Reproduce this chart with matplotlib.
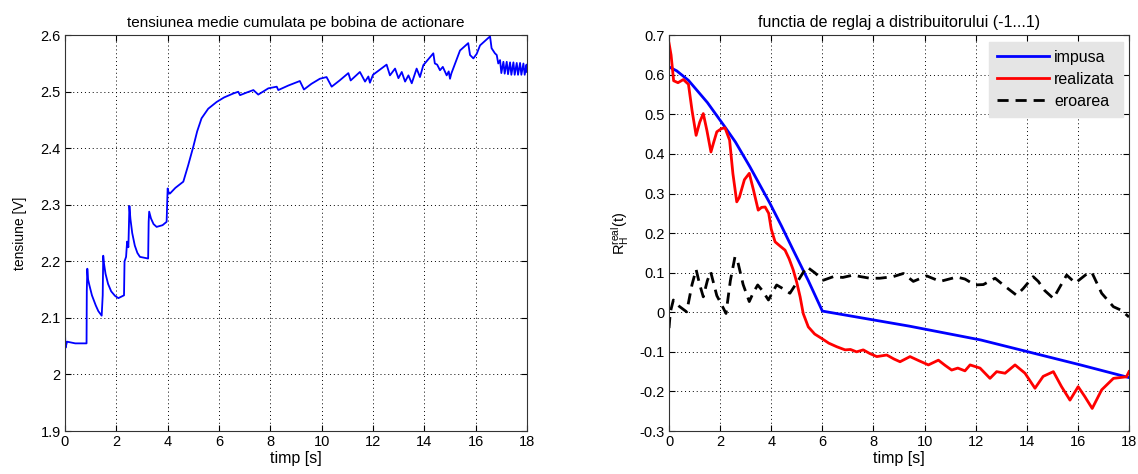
import numpy as np
from matplotlib import pyplot as plt
from matplotlib.ticker import FuncFormatter, MultipleLocator

plt.rcParams['font.family'] = ['Liberation Sans', 'DejaVu Sans']

# left panel: cumulated mean voltage on the actuating coil
t_volt = [0.0, 0.02, 0.08, 0.4, 0.84, 0.85, 0.87, 0.9, 0.95, 1.05, 1.2, 1.3, 1.43,
          1.47, 1.49, 1.52, 1.58, 1.68, 1.8, 1.95, 2.08, 2.3, 2.32, 2.38, 2.42, 2.47,
          2.51, 2.55, 2.62, 2.72, 2.82, 2.92, 3.24, 3.26, 3.28, 3.35, 3.45, 3.57, 3.8, 3.96,
          3.98, 4.0, 4.05, 4.09, 4.3, 4.61, 4.8, 5.0, 5.15, 5.32, 5.58, 5.91,
          6.2, 6.56, 6.75, 6.82, 7.1, 7.34, 7.53, 7.92, 8.25, 8.31, 8.7, 9.15,
          9.31, 9.6, 9.93, 10.19, 10.39, 10.7, 11.04, 11.13, 11.49, 11.69, 11.82,
          11.88, 12.0, 12.53, 12.66, 12.86, 12.99, 13.12, 13.25, 13.38, 13.51,
          13.7, 13.83, 13.96, 14.35, 14.41, 14.5, 14.61, 14.72, 14.87, 14.95,
          15.0, 15.05, 15.39, 15.71, 15.78, 15.91, 16.04, 16.17, 16.56, 16.62,
          16.75, 16.82, 16.88, 16.95, 17.0, 17.08, 17.13, 17.21, 17.26, 17.34,
          17.39, 17.47, 17.52, 17.6, 17.65, 17.73, 17.78, 17.86, 17.91, 17.98, 18.0]
u_volt = [2.073, 2.047, 2.058, 2.055, 2.055, 2.148, 2.187, 2.168, 2.158, 2.14, 2.122,
          2.112, 2.104, 2.14, 2.21, 2.196, 2.178, 2.16, 2.147, 2.139, 2.135, 2.14, 2.2,
          2.208, 2.235, 2.225, 2.298, 2.275, 2.25, 2.228, 2.215, 2.208, 2.205, 2.27,
          2.288, 2.276, 2.266, 2.261, 2.264, 2.27, 2.30, 2.329, 2.32, 2.32, 2.33, 2.341,
          2.37, 2.403, 2.43, 2.453, 2.47, 2.482, 2.49, 2.497, 2.5, 2.494, 2.499,
          2.503, 2.495, 2.506, 2.509, 2.503, 2.511, 2.519, 2.504, 2.514, 2.523,
          2.526, 2.509, 2.52, 2.533, 2.52, 2.535, 2.518, 2.527, 2.516, 2.53,
          2.548, 2.529, 2.541, 2.524, 2.535, 2.518, 2.529, 2.515, 2.541, 2.526,
          2.547, 2.568, 2.55, 2.548, 2.538, 2.544, 2.529, 2.536, 2.523, 2.532,
          2.573, 2.586, 2.565, 2.559, 2.567, 2.582, 2.598, 2.577, 2.568, 2.565,
          2.55, 2.556, 2.533, 2.553, 2.532, 2.553, 2.531, 2.552, 2.53, 2.552,
          2.53, 2.551, 2.53, 2.551, 2.53, 2.55, 2.53, 2.548, 2.535]

# right panel: distributor adjustment function
t_imp = [0.0, 0.3, 0.76, 1.5, 2.19, 2.6, 3.17, 3.95, 4.4, 4.86, 5.45, 6.0,
         9.4, 12.2, 16.1, 18.0]
r_imp = [0.62, 0.61, 0.586, 0.53, 0.468, 0.43, 0.367, 0.275, 0.218, 0.157,
         0.08, 0.003, -0.035, -0.07, -0.133, -0.165]

t_real = [0.0, 0.08, 0.18, 0.35, 0.56, 0.76, 0.9, 1.06, 1.2, 1.34, 1.48, 1.64,
          1.75, 1.87, 2.05, 2.19, 2.37, 2.5, 2.65, 2.75, 2.95, 3.14, 3.3, 3.49,
          3.62, 3.76, 3.9, 4.0, 4.15, 4.35, 4.54, 4.7, 4.86, 5.0, 5.13, 5.25,
          5.45, 5.7, 5.97, 6.25, 6.56, 6.89, 7.1, 7.34, 7.6, 7.85, 8.13, 8.52,
          8.8, 9.04, 9.43, 9.8, 10.15, 10.54, 10.8, 11.06, 11.3, 11.58, 11.78,
          12.17, 12.56, 12.82, 13.15, 13.54, 13.93, 14.32, 14.64, 15.04, 15.36,
          15.69, 16.01, 16.27, 16.56, 16.93, 17.39, 17.9, 18.0]
r_real = [0.68, 0.65, 0.585, 0.58, 0.588, 0.576, 0.51, 0.447, 0.48, 0.502,
          0.46, 0.405, 0.43, 0.456, 0.464, 0.466, 0.435, 0.35, 0.279, 0.29,
          0.335, 0.351, 0.31, 0.258, 0.265, 0.266, 0.25, 0.21, 0.178, 0.167,
          0.157, 0.135, 0.107, 0.075, 0.039, -0.003, -0.037, -0.055, -0.066,
          -0.078, -0.087, -0.095, -0.094, -0.1, -0.095, -0.104, -0.112, -0.108,
          -0.118, -0.125, -0.112, -0.123, -0.133, -0.121, -0.134, -0.146,
          -0.141, -0.148, -0.133, -0.141, -0.167, -0.15, -0.154, -0.133, -0.154,
          -0.192, -0.162, -0.15, -0.188, -0.222, -0.188, -0.213, -0.243, -0.196,
          -0.167, -0.163, -0.15]

t_err = [0.0, 0.05, 0.17, 0.4, 0.69, 0.9, 1.06, 1.2, 1.34, 1.5, 1.63, 1.87,
         2.05, 2.23, 2.4, 2.58, 2.7, 2.9, 3.14, 3.3, 3.47, 3.65, 3.89, 4.05,
         4.21, 4.45, 4.73, 5.05, 5.39, 5.7, 6.04, 6.43, 6.8, 7.21, 7.5, 7.86,
         8.25, 8.77, 9.17, 9.56, 10.08, 10.61, 11.26, 11.58, 11.97, 12.3, 12.76,
         13.1, 13.6, 13.86, 14.25, 14.45, 14.7, 15.04, 15.56, 15.9, 16.41,
         16.55, 16.93, 17.39, 17.7, 18.0]
r_err = [-0.04, 0.0, 0.031, 0.015, 0.001, 0.07, 0.108, 0.07, 0.039, 0.08,
         0.102, 0.042, 0.02, -0.003, 0.08, 0.14, 0.125, 0.07, 0.027, 0.05,
         0.069, 0.055, 0.031, 0.05, 0.069, 0.06, 0.048, 0.08, 0.115, 0.1,
         0.081, 0.09, 0.088, 0.094, 0.09, 0.086, 0.086, 0.09, 0.098, 0.078,
         0.092, 0.078, 0.089, 0.084, 0.069, 0.07, 0.086, 0.068, 0.043, 0.06,
         0.09, 0.078, 0.055, 0.035, 0.094, 0.074, 0.1, 0.1, 0.048, 0.014,
         0.005, -0.012]


def matlab_style(ax, ymin, ymax, ystep):
    ax.set_xlim(0, 18)
    ax.set_ylim(ymin, ymax)
    ax.xaxis.set_major_locator(MultipleLocator(2))
    ax.yaxis.set_major_locator(MultipleLocator(ystep))
    fmt = FuncFormatter(lambda v, p: f'{round(v, 6) + 0:g}')
    ax.yaxis.set_major_formatter(fmt)
    ax.xaxis.set_major_formatter(fmt)
    ax.tick_params(direction='in', length=4, width=0.8, top=True, right=True,
                   labelsize=10.5, pad=3)
    ax.grid(True, color='black', linestyle=(0, (1, 3)), linewidth=0.7)
    for s in ax.spines.values():
        s.set_linewidth(0.8)
        s.set_color('#333333')


fig = plt.figure(figsize=(11.38, 4.74), dpi=100)
ax1 = fig.add_axes([0.0571, 0.0907, 0.406, 0.835])
ax2 = fig.add_axes([0.5879, 0.0907, 0.4042, 0.835])

ax1.plot(t_volt, u_volt, color='blue', linewidth=1.3)
matlab_style(ax1, 1.9, 2.6, 0.1)
ax1.set_title('tensiunea medie cumulata pe bobina de actionare', fontsize=11, pad=6)
ax1.set_xlabel('timp [s]', fontsize=11.5, labelpad=1)
ax1.set_ylabel('tensiune [V]', fontsize=10, labelpad=10)

ax2.plot(t_imp, r_imp, color='blue', linewidth=2, label='impusa')
ax2.plot(t_real, r_real, color='red', linewidth=2, label='realizata')
ax2.plot(t_err, r_err, color='black', linewidth=2, linestyle=(0, (4, 2.5)),
         label='eroarea')
matlab_style(ax2, -0.3, 0.7, 0.1)
ax2.set_title('functia de reglaj a distribuitorului (-1...1)', fontsize=11.5, pad=6)
ax2.set_xlabel('timp [s]', fontsize=11.5, labelpad=1)
ax2.set_ylabel(r'$\mathregular{R_H^{real}(t)}$', fontsize=10.5, labelpad=6)

leg = ax2.legend(loc='upper right', fontsize=11.5, frameon=True, fancybox=False,
                 borderaxespad=0.4, handlelength=3.3, handletextpad=0.3,
                 labelspacing=0.45, borderpad=0.5)
leg.get_frame().set_facecolor('#e5e5e5')
leg.get_frame().set_edgecolor('#e5e5e5')
leg.get_frame().set_alpha(1)

fig.savefig('out.png', dpi=100)
